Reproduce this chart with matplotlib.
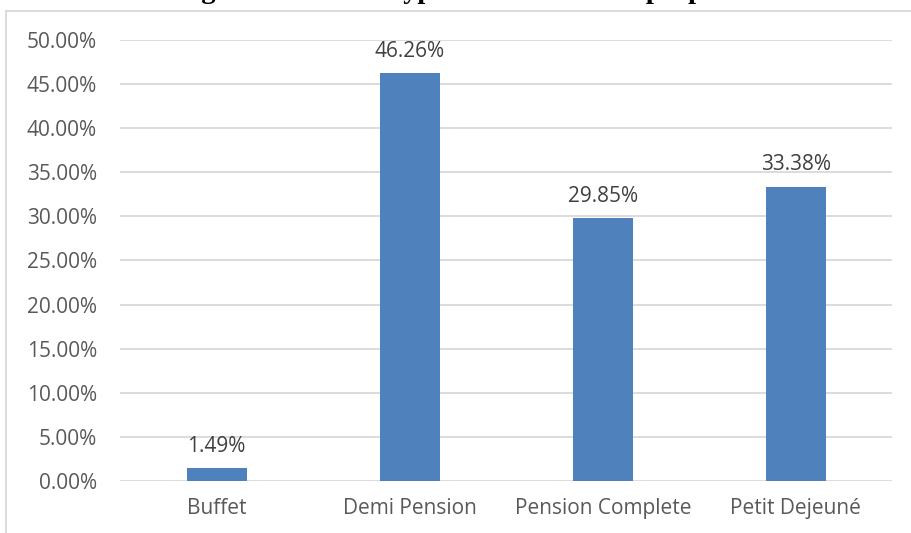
import matplotlib.pyplot as plt
from matplotlib.lines import Line2D
from matplotlib.ticker import FuncFormatter

categories = ['Buffet', 'Demi Pension', 'Pension Complete', 'Petit Dejeuné']
shares = [1.49, 46.26, 29.85, 33.38]
y_ticks = [0, 5, 10, 15, 20, 25, 30, 35, 40, 45, 50]
title = 'Hébergement selon le type de restauration proposé'

plt.rcParams['font.family'] = ['Open Sans', 'DejaVu Sans']

fig = plt.figure(figsize=(9.12, 5.33), dpi=100)
ax = fig.add_axes([0.1316, 0.0976, 0.847, 0.8274])

x = range(len(categories))
bars = ax.bar(x, shares, width=0.31, color='#4F81BD', zorder=3)

for b, v in zip(bars, shares):
    ax.annotate('{:.2f}%'.format(v), (b.get_x() + b.get_width() / 2, v),
                xytext=(0, 8), textcoords='offset points', ha='center', va='bottom',
                fontsize=15, color='#404040')

ax.set_xlim(-0.5, len(categories) - 0.5)
ax.set_ylim(0, 50)
ax.set_yticks(y_ticks)
ax.yaxis.set_major_formatter(FuncFormatter(lambda v, p: '{:.2f}%'.format(v)))
ax.set_xticks(list(x))
ax.set_xticklabels(categories)
ax.tick_params(axis='both', length=0, labelsize=15, labelcolor='#595959')
ax.tick_params(axis='y', pad=16.5)
ax.tick_params(axis='x', pad=12)
ax.grid(axis='y', color='#D9D9D9', linewidth=1.3, zorder=0)
for s in ax.spines.values():
    s.set_visible(False)

# chart frame (top and left edges only)
fig.add_artist(Line2D([0.0066, 1.0], [0.979, 0.979], color='#D9D9D9', lw=1.3))
fig.add_artist(Line2D([0.0066, 0.0066], [0.0, 0.979], color='#D9D9D9', lw=1.3))

# title sits above the canvas, only descenders show
fig.text(0.475, 1.0038, title, ha='center', va='baseline', fontsize=20.5,
         fontweight='bold', family=['Liberation Serif', 'DejaVu Serif'])

fig.savefig('out.png', dpi=100)
